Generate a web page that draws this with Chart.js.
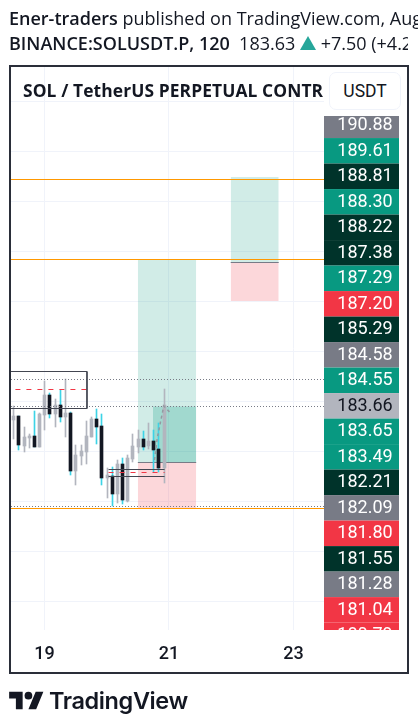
<!DOCTYPE html>
<html>
<head>
<meta charset="utf-8">
<title>SOLUSDT.P</title>
<script src="https://cdn.jsdelivr.net/npm/chart.js@4/dist/chart.umd.min.js"></script>
<style>
    html, body { margin: 0; padding: 0; background: #fff; width: 418px; height: 728px; overflow: hidden; }
    #chart { position: absolute; left: 0; top: 0; }
    .line { position: absolute; left: 9px; white-space: nowrap; overflow: hidden; font-family: "Open Sans", sans-serif; font-size: 18px; color: #131722; }
    #line1 { top: 6px; width: 409px; }
    #line2 { top: 31px; width: 399px; }
    .line b { font-weight: 600; }
    .up { display: inline-block; width: 0; height: 0; border-left: 8px solid transparent; border-right: 8px solid transparent; border-bottom: 14px solid #26a69a; }
    #frame { position: absolute; left: 9px; top: 65px; width: 396px; height: 605px; border: 2px solid #2a2e39; }
    #title { position: absolute; left: 23px; top: 78px; width: 301px; overflow: hidden; white-space: nowrap; font-family: "Open Sans", sans-serif; font-weight: 700; font-size: 17.4px; letter-spacing: 0.1px; color: #131722; }
    #unit { position: absolute; left: 329px; top: 72px; width: 70px; height: 36px; border: 1px solid #f0f3fa; border-radius: 7px; background: #fff; text-align: center; line-height: 36px; font-family: Roboto, sans-serif; font-size: 17.5px; color: #131722; }
    #logo { position: absolute; left: 9px; top: 688px; }
    #brand { position: absolute; left: 49px; top: 686px; font-family: Inter, sans-serif; font-weight: 600; font-size: 23.5px; letter-spacing: -0.4px; color: #131722; }
</style>
</head>
<body>
<canvas id="chart" width="418" height="728"></canvas>
<div class="line" id="line1"><b>Ener-traders</b> published on TradingView.com, Aug 19, 2025</div>
<div class="line" id="line2"><b>BINANCE:SOLUSDT.P, 120</b>&nbsp; 183.63 <span class="up"></span> +7.50 (+4.26%)</div>
<div id="frame"></div>
<div id="title">SOL / TetherUS PERPETUAL CONTR</div>
<div id="unit">USDT</div>
<svg id="logo" width="35" height="27" viewBox="0 0 36 28"><path fill="#131722" d="M14 22H7V11H0V4h14v18zM28 22h-8l7.5-18h8L28 22z"/><circle fill="#131722" cx="20" cy="8" r="4"/></svg>
<div id="brand">TradingView</div>

<script>
// hours counted from the 19th 00:00, one candle every 2h
const candleHours = [-12, -10, -8, -6, -4, -2, 0, 2, 4, 6, 8, 10, 12, 14, 16, 18, 20, 22, 24, 26, 28, 30, 32, 34, 36, 38, 40, 42, 44, 46];
const candleOpen = [183.64, 183.72, 183.12, 183.28, 183.32, 183.10, 183.74, 184.14, 183.76, 183.94, 183.70, 183.78, 182.62, 182.92, 183.00, 183.30, 183.66, 183.52, 182.48, 182.52, 182.16, 182.76, 182.02, 182.86, 183.10, 183.26, 183.12, 183.22, 183.06, 182.68];
const candleHigh = [183.91, 183.72, 183.50, 183.36, 183.82, 183.79, 184.42, 184.18, 184.06, 184.24, 184.46, 183.80, 183.14, 183.14, 183.62, 183.70, 183.86, 183.76, 182.68, 182.70, 182.84, 182.88, 182.94, 183.36, 183.44, 183.42, 183.58, 183.44, 183.58, 184.26];
const candleLow = [183.26, 183.04, 182.99, 183.08, 183.10, 183.10, 183.44, 183.68, 183.50, 183.60, 183.30, 182.54, 182.34, 182.74, 182.76, 183.30, 183.16, 182.34, 182.08, 181.92, 181.98, 181.96, 182.00, 182.80, 182.98, 183.04, 183.06, 182.59, 182.60, 182.38];
const candleClose = [183.73, 183.14, 183.30, 183.32, 183.10, 183.76, 184.14, 183.76, 183.94, 183.70, 183.78, 182.62, 182.94, 183.02, 183.32, 183.66, 183.50, 182.48, 182.54, 182.16, 182.76, 182.04, 182.88, 183.12, 183.26, 183.10, 183.22, 183.04, 182.68, 183.94];

const xTicks = [0, 48, 96];
const xTickLabels = ['19', '21', '23'];
const priceGrid = [180, 181, 182, 183, 184, 185, 186, 187, 188, 189, 190];

// price axis labels, stacked top to bottom as TradingView piles them up
const priceLabels = ['190.88', '189.61', '188.81', '188.30', '188.22', '187.38', '187.29', '187.20', '185.29', '184.58', '184.55', '183.66', '183.65', '183.49', '182.21', '182.09', '181.80', '181.55', '181.28', '181.04', '180.79'];
const labelKinds = ['grey', 'green', 'dark', 'green', 'dark', 'dark', 'green', 'red', 'dark', 'grey', 'green', 'light', 'green', 'green', 'dark', 'grey', 'red', 'dark', 'grey', 'red', 'red'];

const orangeLevels = [188.45, 186.85, 181.87];
const dottedLevels = [184.45, 183.91, 181.91];
const projectionHours = [42.4, 43.5, 44.5, 46, 48.6];
const projectionPrice = [182.84, 183.28, 183.54, 183.92, 183.78];

const X_MIN = -12.9, X_MAX = 107.76;

const kindStyle = {
    grey: { bg: '#787b86', fg: '#ffffff' },
    green: { bg: '#089981', fg: '#ffffff' },
    dark: { bg: '#00332a', fg: '#ffffff' },
    red: { bg: '#f23645', fg: '#ffffff' },
    light: { bg: '#b2b5be', fg: '#131722' }
};

function segment(x0, x1, price, color, width, dash, order) {
    return {
        type: 'line', data: [{ x: x0, y: price }, { x: x1, y: price }],
        borderColor: color, borderWidth: width, borderDash: dash || [],
        pointRadius: 0, order: order, fill: false
    };
}

function box(x0, x1, top, bottom, color) {
    return {
        type: 'line', data: [{ x: x0, y: top }, { x: x1, y: top }],
        borderWidth: 0, pointRadius: 0, backgroundColor: color,
        fill: { value: bottom }, order: 9
    };
}

const GREEN_BOX = 'rgba(8,153,129,0.19)', RED_BOX = 'rgba(242,54,69,0.2)';

const datasets = [
    box(36, 58.5, 186.85, 182.79, GREEN_BOX),
    box(36, 58.5, 182.79, 181.87, RED_BOX),
    box(41.8, 58.5, 183.91, 182.79, 'rgba(8,153,129,0.24)'),
    box(71.8, 90.3, 188.50, 186.79, GREEN_BOX),
    box(71.8, 90.3, 186.79, 186.02, RED_BOX),
    segment(36, 58.5, 182.79, '#787b86', 1, null, 8),
    segment(71.8, 90.3, 186.79, '#787b86', 1, null, 8),
    // wicks
    {
        type: 'bar', order: 4, barThickness: 1, borderWidth: 0,
        data: candleHours.map((h, i) => ({ x: h, y: [candleLow[i], candleHigh[i]] })),
        backgroundColor: candleHours.map((h, i) => candleClose[i] < candleOpen[i] ? '#3dd3e6' : '#b2b5be')
    },
    // bodies
    {
        type: 'bar', order: 3, barThickness: 3, borderWidth: 0,
        data: candleHours.map((h, i) => ({ x: h, y: [candleOpen[i], candleClose[i]] })),
        backgroundColor: candleHours.map((h, i) => candleClose[i] < candleOpen[i] ? '#131722' : '#b2b5be')
    },
    // little box around the entry
    segment(24.7, 46.3, 182.65, '#434651', 1, null, 2),
    segment(24.7, 46.3, 182.51, '#434651', 1, null, 2),
    segment(24.7, 46.3, 182.59, '#f23645', 1, [5, 6], 2),
    // top left box
    segment(X_MIN, 16.39, 184.61, '#434651', 1, null, 2),
    segment(X_MIN, 16.39, 183.87, '#434651', 1, null, 2),
    { type: 'line', data: [{ x: 16.39, y: 184.61 }, { x: 16.39, y: 183.87 }], borderColor: '#434651', borderWidth: 1, pointRadius: 0, order: 2, fill: false },
    segment(-11.2, 16.39, 184.25, '#f23645', 1, [5, 6], 2),
    // projected path
    {
        type: 'line', order: 1, fill: false, pointRadius: 0, borderWidth: 1.5, borderDash: [3, 3], borderColor: '#9598a1',
        data: projectionHours.map((h, i) => ({ x: h, y: projectionPrice[i] }))
    }
];
orangeLevels.forEach(p => datasets.push(segment(X_MIN, X_MAX, p, '#ff9800', 1, null, 2)));
dottedLevels.forEach(p => datasets.push(segment(X_MIN, X_MAX, p, '#787b86', 1, [1, 2], 2)));

// candles sit on whole pixels like the original, otherwise the 1px wicks go pale
const snapCandles = {
    id: 'snapCandles',
    beforeDatasetDraw(chart, args) {
        if (args.meta.type !== 'bar') return;
        args.meta.data.forEach(el => {
            el.x = Math.floor(el.x + 0.3) + 0.5;
            el.y = Math.round(el.y);
            el.base = Math.round(el.base);
        });
    }
};

// paints the stacked price labels to the right of the plot
const priceColumn = {
    id: 'priceColumn',
    afterDraw(chart) {
        const { ctx, scales } = chart;
        const slots = scales.slots;
        const left = chart.chartArea.right, width = 75;
        ctx.save();
        ctx.beginPath();
        ctx.rect(left, 116, width, chart.chartArea.bottom - 116);
        ctx.clip();
        ctx.font = '18px Roboto';
        ctx.textBaseline = 'middle';
        ctx.textAlign = 'center';
        priceLabels.forEach((label, i) => {
            const y = slots.getPixelForValue(i);
            const style = kindStyle[labelKinds[i]];
            ctx.fillStyle = style.bg;
            ctx.fillRect(left, y - 12.75, width, 25.5);
            ctx.fillStyle = style.fg;
            ctx.fillText(label, left + 41, y + 0.5);
        });
        ctx.restore();
    }
};

new Chart(document.getElementById('chart'), {
    type: 'bar',
    data: { datasets: datasets },
    plugins: [snapCandles, priceColumn],
    options: {
        responsive: false,
        animation: false,
        devicePixelRatio: 1,
        layout: { padding: { left: 11, right: 94, top: 67, bottom: 50 } },
        plugins: { legend: { display: false }, tooltip: { enabled: false } },
        datasets: { bar: { grouped: false } },
        scales: {
            x: {
                type: 'linear', min: X_MIN, max: X_MAX, offset: false,
                afterBuildTicks(axis) { axis.ticks = xTicks.map(v => ({ value: v })); },
                afterFit(axis) { axis.height = 48; },
                grid: { color: '#f0f3fa', offset: false, drawTicks: false },
                border: { display: false },
                ticks: {
                    autoSkip: false, maxRotation: 0, padding: 14, color: '#131722',
                    font: { family: 'Roboto', size: 18, weight: '500' },
                    callback: v => xTickLabels[xTicks.indexOf(v)]
                }
            },
            y: {
                type: 'linear', min: 179.44, max: 190.70,
                afterBuildTicks(axis) { axis.ticks = priceGrid.map(v => ({ value: v })); },
                grid: { color: '#f0f3fa', drawTicks: false },
                border: { display: false },
                ticks: { display: false }
            },
            slots: { type: 'linear', axis: 'y', display: false, reverse: true, min: -2.286, max: 19.79 }
        }
    }
});
</script>
</body>
</html>
